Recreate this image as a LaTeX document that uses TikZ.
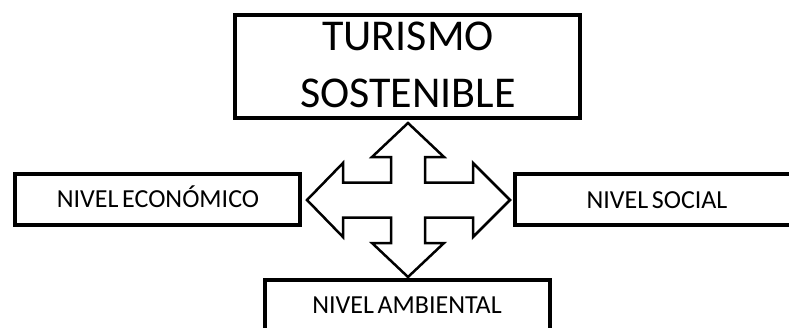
\documentclass[tikz,border=0pt]{standalone}
\usepackage{fontspec}
\setmainfont{Carlito}
\newcommand{\tightsp}{\spaceskip=0.14em plus 0.02em minus 0.02em\relax}
\begin{document}
\begin{tikzpicture}[x=1pt,y=-1pt,
  box/.style={draw=black,line width=3.5pt,fill=white},
  bigtxt/.style={font=\fontsize{44}{57}\selectfont,inner sep=0pt,anchor=base},
  smalltxt/.style={font=\fontsize{26}{30}\selectfont,inner sep=0pt,anchor=base},
  cross/.style={draw=black,line width=2.5pt,line join=miter,fill=white}]
\useasboundingbox (0,0) rectangle (789,327);
\clip (0,0) rectangle (789,327);
\fill[white] (0,0) rectangle (789,327);
% boxes
\draw[box] (235,15) rectangle (580,118);
\draw[box] (15,174) rectangle (300,225);
\draw[box] (515,174) rectangle (800,225);
\draw[box] (265,280) rectangle (550,345);
% texts
\node[bigtxt] (top1) at (408,50) {TURISMO};
\node[bigtxt] (top2) at (408,107) {SOSTENIBLE};
\node[smalltxt] (eco) at (158,207) {\tightsp NIVEL ECONÓMICO};
\node[smalltxt] (soc) at (657,208) {\tightsp NIVEL SOCIAL};
\node[smalltxt] (amb) at (407,313) {\tightsp NIVEL AMBIENTAL};
% four-way arrow
\coordinate (c) at (408,200);
\draw[cross] (408,123) -- (444,157) -- (425,157) -- (425,182.5) -- (473,182.5) -- (473,163)
  -- (510,200) -- (473,237) -- (473,217.5) -- (425,217.5) -- (425,243) -- (444,243)
  -- (408,277) -- (372,243) -- (391,243) -- (391,217.5) -- (343,217.5) -- (343,237)
  -- (307,200) -- (343,163) -- (343,182.5) -- (391,182.5) -- (391,157) -- (372,157) -- cycle;
\end{tikzpicture}
\end{document}
